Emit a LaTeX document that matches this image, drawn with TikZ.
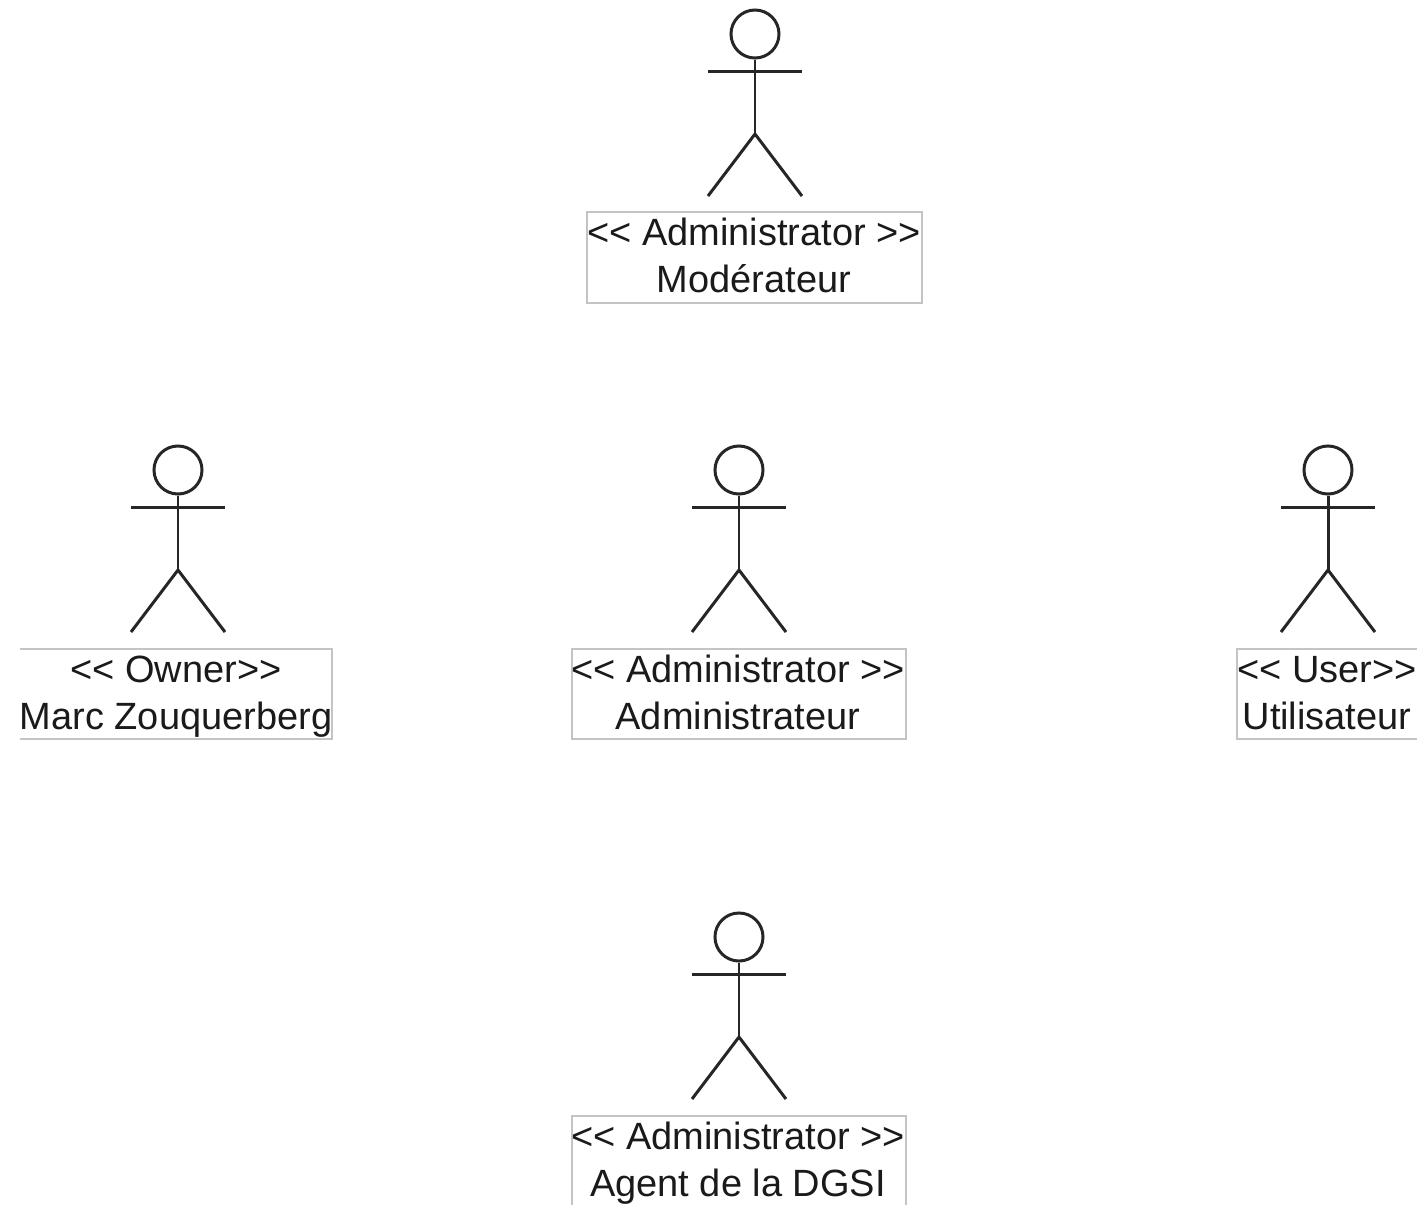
\documentclass[tikz,border=0pt]{standalone}
\usepackage{fontspec}
\newfontfamily\labelfont{Liberation Sans}
\definecolor{boxgray}{HTML}{C4C4C4}
\definecolor{textdark}{HTML}{1A1A1A}
\tikzset{
    stick/.style={draw=black!85, line width=0.85pt},
    roleline/.style={draw=boxgray, line width=0.4pt},
    rolelabel/.style={inner sep=0pt, align=center, text=textdark, font=\labelfont\fontsize{10.8}{13.3}\selectfont}
}
\begin{document}
\begin{tikzpicture}[x=0.01cm, y=-0.01cm]
    \useasboundingbox (0,0) rectangle (1423,1205);

    % actors
    \foreach \name/\x/\y in {moderateur/755/10, marc/178/446, administrateur/739/446, utilisateur/1328/446, agent/739/913} {
        \node[stick, circle, minimum size=0.48cm, inner sep=0pt] (head\name) at (\x, \y+24) {};
        \draw[stick] (head\name.south) -- (\x, \y+124);
        \draw[stick] (\x-47, \y+61) -- (\x+47, \y+61);
        \draw[stick] (\x-47, \y+186) -- (\x, \y+124) -- (\x+47, \y+186);
    }

    % closed boxes
    \draw[roleline] (587,212) rectangle (922,303);
    \draw[roleline] (572,649) rectangle (906,739);

    % boxes cut by the edge
    \draw[roleline] (20,649) -- (332,649) -- (332,739) -- (20,739);
    \draw[roleline] (1417,649) -- (1237,649) -- (1237,739) -- (1417,739);
    \draw[roleline] (572,1205) -- (572,1116) -- (906,1116) -- (906,1205);

    % labels
    \node[rolelabel] (labelmoderateur) at (754,260) {\strut<{}< Administrator >{}>\\\strut Mod\'erateur};
    \node[rolelabel] (labelmarc) at (176,697) {\strut<{}< Owner>{}>\\\strut Marc Zouquerberg};
    \node[rolelabel] (labeladministrateur) at (738,697) {\strut<{}< Administrator >{}>\\\strut Administrateur};
    \node[rolelabel] (labelutilisateur) at (1327,697) {\strut<{}< User>{}>\\\strut Utilisateur};
    \node[rolelabel] (labelagent) at (738,1164) {\strut<{}< Administrator >{}>\\\strut Agent de la DGSI};
\end{tikzpicture}
\end{document}
